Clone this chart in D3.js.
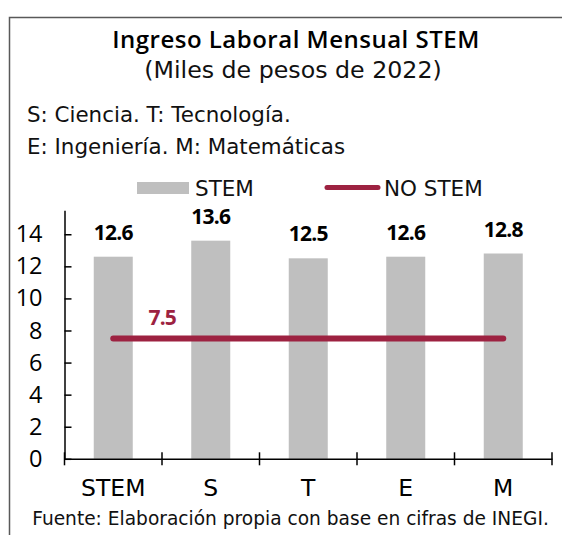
<!DOCTYPE html>
<html>
<head>
<meta charset="utf-8">
<script src="https://cdn.jsdelivr.net/npm/d3@7"></script>
<style>
  html, body { margin: 0; padding: 0; background: #fff; }
  svg { display: block; font-family: "DejaVu Sans", sans-serif; }
</style>
</head>
<body>
<svg id="chart" width="562" height="535"></svg>
<script>
// Monthly labour income, thousands of 2022 pesos
const categories = ["STEM", "S", "T", "E", "M"];
const stemValues = [12.6, 13.6, 12.5, 12.6, 12.8];
const noStemValues = [7.5, 7.5, 7.5, 7.5, 7.5];
const yTicks = [0, 2, 4, 6, 8, 10, 12, 14];
const legendLabels = ["STEM", "NO STEM"];

const GREY = "#bfbfbf";
const RED = "#9d2241";
const BODY = "DejaVu Sans, sans-serif";
const NUM = "Open Sans, sans-serif";

const svg = d3.select("#chart");

// outer frame
svg.append("path")
  .attr("d", "M9.5,535 V17.5 H562")
  .attr("fill", "none")
  .attr("stroke", "#595959")
  .attr("stroke-width", 1.5);

// titles and notes
svg.append("text").attr("x", 296).attr("y", 48).attr("text-anchor", "middle")
  .attr("font-family", NUM).attr("font-size", 24).attr("font-weight", 600)
  .attr("letter-spacing", 0.5).attr("fill", "#000")
  .text("Ingreso Laboral Mensual STEM");
svg.append("text").attr("x", 293).attr("y", 78).attr("text-anchor", "middle")
  .attr("font-size", 23.7).attr("fill", "#111")
  .text("(Miles de pesos de 2022)");
svg.append("text").attr("x", 27).attr("y", 122)
  .attr("font-size", 21.4).attr("fill", "#111")
  .text("S: Ciencia. T: Tecnología.");
svg.append("text").attr("x", 27).attr("y", 154)
  .attr("font-size", 21.4).attr("fill", "#111")
  .text("E: Ingeniería. M: Matemáticas");

// scales
const x = d3.scaleBand().domain(categories).range([64.5, 552])
  .paddingInner(0.6).paddingOuter(0.3);
const y = d3.scaleLinear().domain([0, 15.5]).range([458.8, 210.2]);

// bars
svg.append("g").selectAll("rect").data(stemValues).join("rect")
  .attr("x", (d, i) => x(categories[i]))
  .attr("y", d => y(d))
  .attr("width", x.bandwidth())
  .attr("height", d => y(0) - y(d))
  .attr("fill", GREY);

// bar value labels
svg.append("g").selectAll("text").data(stemValues).join("text")
  .attr("x", (d, i) => x(categories[i]) + x.bandwidth() / 2)
  .attr("y", d => y(d) - 17)
  .attr("text-anchor", "middle")
  .attr("font-family", NUM)
  .attr("font-size", 21).attr("font-weight", 700).attr("letter-spacing", -0.8)
  .attr("fill", "#000")
  .text(d => d.toFixed(1));

// y axis
const yAxis = svg.append("g").attr("transform", `translate(${x.range()[0]},0)`)
  .call(d3.axisLeft(y).tickValues(yTicks).tickSizeInner(-7).tickSizeOuter(0).tickPadding(22));
yAxis.select(".domain").attr("stroke", "#000").attr("stroke-width", 1.5);
yAxis.selectAll(".tick line").attr("stroke", "#000").attr("stroke-width", 1.5);
yAxis.selectAll(".tick text").attr("font-family", NUM)
  .attr("font-size", 23.5).attr("fill", "#000");

// x axis
const xAxis = svg.append("g").attr("transform", `translate(0,${y(0)})`)
  .call(d3.axisBottom(x).tickSize(0).tickPadding(21));
xAxis.select(".domain").attr("stroke", "#000").attr("stroke-width", 1.5);
xAxis.selectAll(".tick text").attr("font-family", BODY)
  .attr("font-size", 23.5).attr("fill", "#000");

// category separator ticks
const step = x.step();
const edges = [x.range()[0]].concat(categories.map(c => x(c) - (step - x.bandwidth()) / 2 + step));
xAxis.append("g").selectAll("line").data(edges).join("line")
  .attr("x1", d => d).attr("x2", d => d)
  .attr("y1", -6.5).attr("y2", 6.5)
  .attr("stroke", "#000").attr("stroke-width", 1.5);

// NO STEM line
const line = d3.line()
  .x((d, i) => x(categories[i]) + x.bandwidth() / 2)
  .y(d => y(d));
svg.append("path").datum(noStemValues)
  .attr("d", line)
  .attr("fill", "none").attr("stroke", RED)
  .attr("stroke-width", 6).attr("stroke-linecap", "round");

svg.append("text")
  .attr("x", x(categories[0]) + x.bandwidth() / 2 + 49)
  .attr("y", y(noStemValues[0]) - 14)
  .attr("text-anchor", "middle")
  .attr("font-family", NUM)
  .attr("font-size", 21).attr("font-weight", 700).attr("letter-spacing", -0.8)
  .attr("fill", RED)
  .text(noStemValues[0].toFixed(1));

// legend
const lg = svg.append("g");
lg.append("rect").attr("x", 137).attr("y", 182).attr("width", 52).attr("height", 12).attr("fill", GREY);
lg.append("text").attr("x", 195).attr("y", 195.5).attr("font-size", 21.5).attr("fill", "#111").text(legendLabels[0]);
lg.append("line").attr("x1", 327).attr("x2", 378).attr("y1", 187.5).attr("y2", 187.5)
  .attr("stroke", RED).attr("stroke-width", 5).attr("stroke-linecap", "round");
lg.append("text").attr("x", 384).attr("y", 195.5).attr("font-size", 21.5).attr("fill", "#111").text(legendLabels[1]);

// source
svg.append("text").attr("x", 290.5).attr("y", 525).attr("text-anchor", "middle")
  .attr("font-size", 18.6).attr("fill", "#111")
  .text("Fuente: Elaboración propia con base en cifras de INEGI.");
</script>
</body>
</html>
